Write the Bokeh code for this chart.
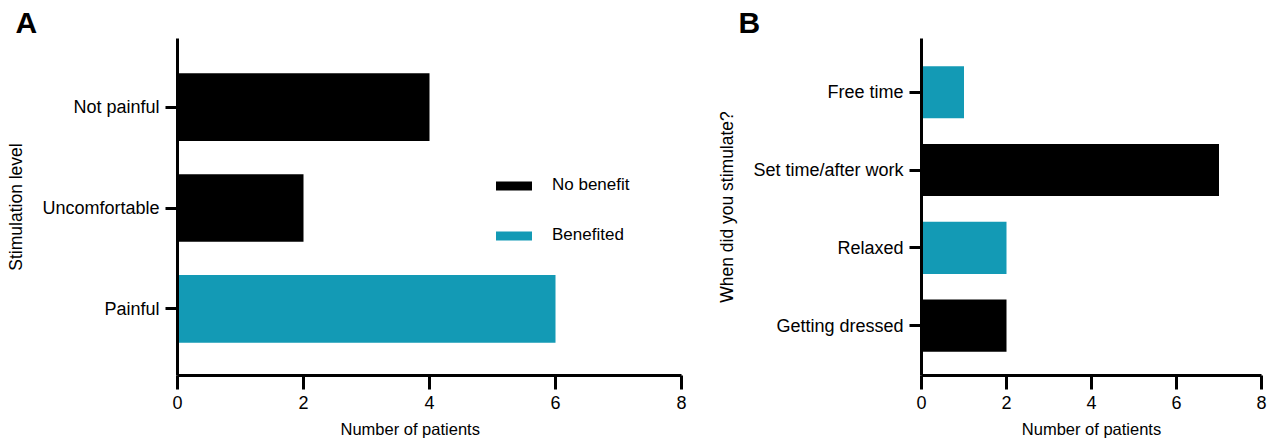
from bokeh.plotting import figure
from bokeh.models import (ColumnDataSource, FixedTicker, Legend, LegendItem,
                          Title, Range1d)
from bokeh.layouts import row
from bokeh.embed import file_html
from bokeh.resources import INLINE

FONT = "Liberation Sans"
BLACK = "#000000"
TEAL = "#139AB5"

# ---- data ----
x_ticks = [0, 2, 4, 6, 8]
group_names = ["No benefit", "Benefited"]
group_colors = [BLACK, TEAL]

a_categories = ["Not painful", "Uncomfortable", "Painful"]
a_values = [4, 2, 6]
a_groups = ["No benefit", "No benefit", "Benefited"]

b_categories = ["Free time", "Set time/after work", "Relaxed", "Getting dressed"]
b_values = [1, 7, 2, 2]
b_groups = ["Benefited", "No benefit", "Benefited", "No benefit"]


def make_panel(cats, vals, groups, width, border_left, border_right, y_range,
               ylabel, letter, letter_offset, title_align, title_offset):
    n = len(cats)
    ys = [n - 1 - i for i in range(n)]
    p = figure(width=width, height=448, output_backend="svg", toolbar_location=None,
               x_range=Range1d(0, 8), y_range=Range1d(*y_range),
               min_border_left=border_left, min_border_right=border_right,
               min_border_top=38, min_border_bottom=73)
    p.grid.visible = False
    p.outline_line_color = None
    p.background_fill_color = "white"
    rends = {}
    for grp, color in zip(group_names, group_colors):
        idx = [i for i, g in enumerate(groups) if g == grp]
        src = ColumnDataSource(dict(y=[ys[i] for i in idx],
                                    right=[vals[i] for i in idx],
                                    cat=[cats[i] for i in idx]))
        rends[grp] = p.hbar(y="y", right="right", left=0, height=0.67, source=src,
                            fill_color=color, line_color=None)

    xa = p.xaxis[0]
    xa.ticker = FixedTicker(ticks=x_ticks)
    ya = p.yaxis[0]
    ya.ticker = FixedTicker(ticks=ys)
    ya.major_label_overrides = {y: c for y, c in zip(ys, cats)}
    for ax in (xa, ya):
        ax.axis_line_width = 3
        ax.axis_line_color = "black"
        ax.major_tick_line_width = 3
        ax.major_tick_line_color = "black"
        ax.major_tick_in = 0
        ax.minor_tick_line_color = None
        ax.major_label_text_font = FONT
        ax.major_label_text_font_size = "18px"
        ax.major_label_text_color = "black"
    xa.major_tick_out = 14
    xa.major_label_standoff = 6
    ya.major_tick_out = 12
    ya.major_label_standoff = 6
    ya.axis_label = ylabel
    ya.axis_label_text_font = FONT
    ya.axis_label_text_font_size = "17.5px"
    ya.axis_label_text_font_style = "normal"
    ya.axis_label_text_color = "black"
    ya.axis_label_standoff = 13

    t = Title(text="Number of patients", align=title_align, offset=title_offset,
              text_font=FONT, text_font_size="16.5px", text_font_style="normal",
              text_color="black", standoff=12)
    p.add_layout(t, "below")

    lt = Title(text=letter, align="left", offset=letter_offset, text_font=FONT,
               text_font_size="30px", text_font_style="bold", text_color="black",
               standoff=0)
    p.add_layout(lt, "above")
    return p, rends


pA, rA = make_panel(a_categories, a_values, a_groups, 708, 177, 27, (-0.66, 2.68),
                    "Stimulation level", "A", -162, "left", 163)
legend = Legend(items=[LegendItem(label=g, renderers=[rA[g]]) for g in group_names],
                location=(314, 130), glyph_width=45, glyph_height=11,
                label_standoff=16, spacing=30, padding=0, margin=0,
                border_line_color=None, background_fill_alpha=0,
                label_text_font=FONT, label_text_font_size="17px",
                label_text_color="black", label_height=20)
pA.add_layout(legend)

pB, rB = make_panel(b_categories, b_values, b_groups, 561, 213, 8, (-0.64, 3.69),
                    "When did you stimulate?", "B", -183, "center", 0)

layout = row(pA, pB)
open("out.html", "w").write(file_html(layout, INLINE))
